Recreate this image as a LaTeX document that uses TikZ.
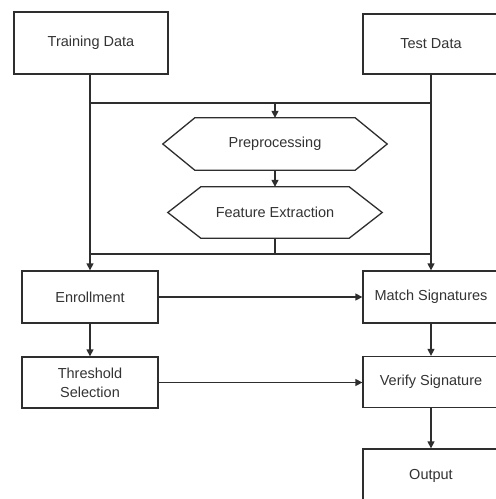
\documentclass[tikz,border=0pt]{standalone}
\usepackage{fontspec}
\setmainfont{Liberation Sans}
\usetikzlibrary{arrows.meta}
\definecolor{ln}{HTML}{2E2E2E}
\definecolor{tx}{HTML}{333333}
\begin{document}
\begin{tikzpicture}[x=1pt,y=-1pt,
  box/.style={draw=ln, line width=1.3pt, rectangle, inner sep=0pt, align=center,
    text=tx, font=\fontsize{14.5}{19}\selectfont},
  hexlabel/.style={inner sep=0pt, text=tx, font=\fontsize{14.5}{19}\selectfont},
  hexline/.style={draw=ln, line width=1.3pt, line join=miter},
  conn/.style={draw=ln, line width=1.3pt},
  arr/.style={conn, -{Triangle[length=7pt,width=7pt]}}]
\useasboundingbox (0,0) rectangle (496,499);
\fill[white] (0,0) rectangle (496,499);

\node[box, minimum width=154pt, minimum height=62pt] (train) at (91,43) {Training Data};
\node[box, minimum width=136pt, minimum height=60pt] (test) at (431,44) {Test Data};

\node[hexlabel, minimum width=160pt, minimum height=52pt] (pre) at (275,144) {Preprocessing};
\draw[hexline] (pre.north west) -- ([xshift=-32pt]pre.west) -- (pre.south west)
  -- (pre.south east) -- ([xshift=32pt]pre.east) -- (pre.north east) -- cycle;
\node[hexlabel, minimum width=148pt, minimum height=51pt] (feat) at (275,212.5) {Feature Extraction};
\draw[hexline] (feat.north west) -- ([xshift=-33pt]feat.west) -- (feat.south west)
  -- (feat.south east) -- ([xshift=33pt]feat.east) -- (feat.north east) -- cycle;

\node[box, minimum width=136pt, minimum height=52pt] (enr) at (90,297) {Enrollment};
\node[box, minimum width=136pt, minimum height=52pt] (match) at (431,297) {Match Signatures};
\node[box, minimum width=136pt, minimum height=51pt] (thr) at (90,382.5) {Threshold\\Selection};
\node[box, minimum width=136pt, minimum height=51pt] (ver) at (431,382) {Verify Signature};
\node[box, minimum width=136pt, minimum height=54pt] (out) at (431,476) {Output};

\coordinate (jl) at (90,103);
\coordinate (jr) at (431,103);
\coordinate (jm) at (275,103);
\coordinate (kl) at (90,254);
\coordinate (kr) at (431,254);
\coordinate (km) at (275,254);

\draw[arr] (train.south -| enr.north) -- (enr.north);
\draw[arr] (test.south) -- (match.north);
\draw[conn] (jl) -- (jr);
\draw[arr] (jm) -- (pre.north);
\draw[arr] (pre.south) -- (feat.north);
\draw[conn] (feat.south) -- (km);
\draw[conn] (kl) -- (kr);
\draw[arr] (enr.east) -- (match.west);
\draw[arr] (enr.south) -- (thr.north);
\draw[arr] (thr.east) -- (thr.east -| ver.west);
\draw[arr] (match.south) -- (ver.north);
\draw[arr] (ver.south) -- (out.north);
\end{tikzpicture}
\end{document}
